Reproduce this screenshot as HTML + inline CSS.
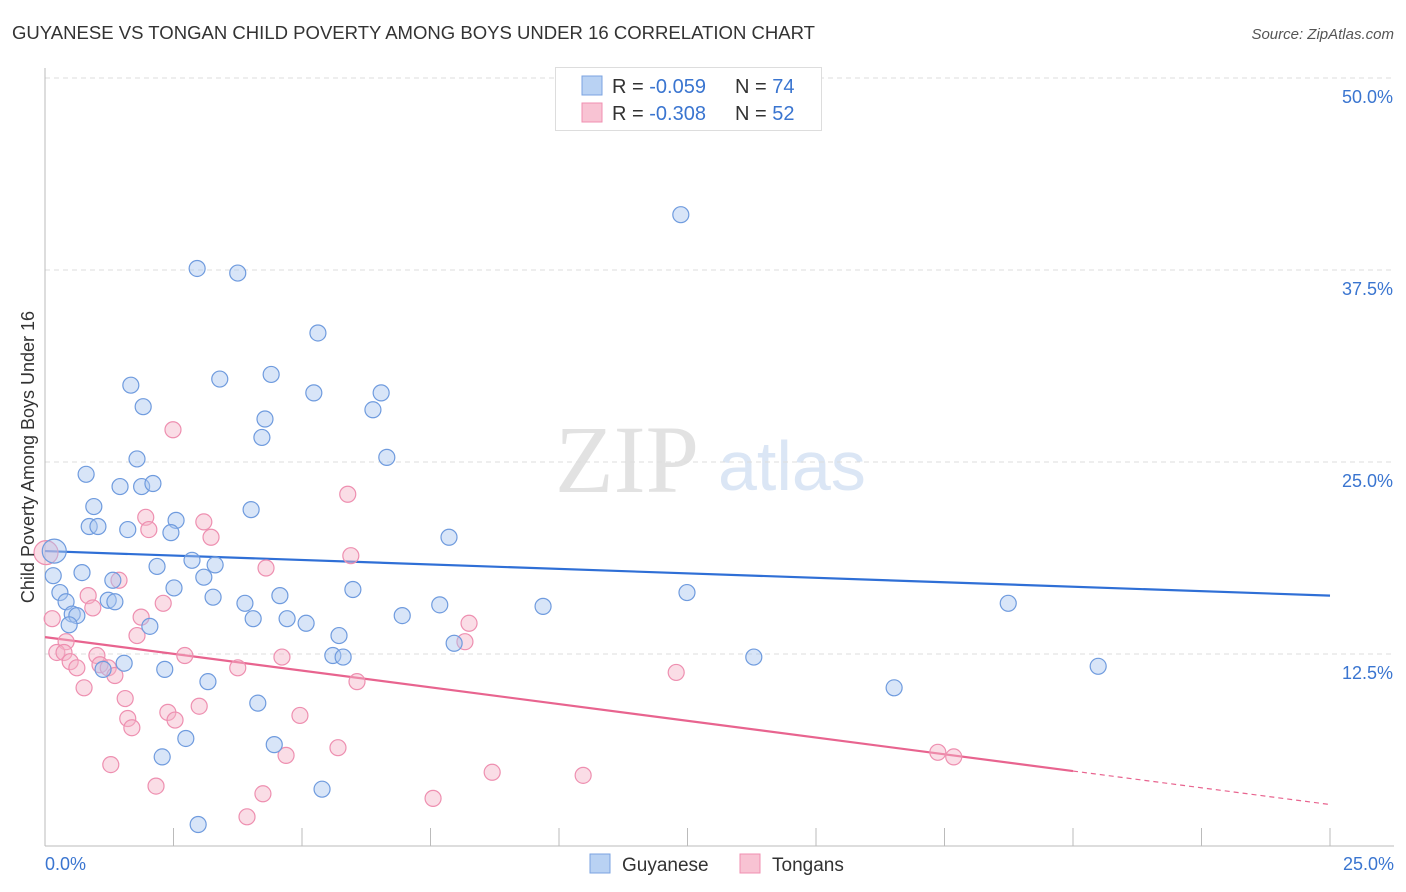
<!DOCTYPE html>
<html><head><meta charset="utf-8"><style>
body{margin:0;background:#fff;font-family:"Liberation Sans",sans-serif;}
svg{display:block}
</style></head><body>
<svg id="chart" width="1406" height="892" xmlns="http://www.w3.org/2000/svg">
<text x="12" y="39" font-size="18" fill="#333" textLength="803" lengthAdjust="spacingAndGlyphs">GUYANESE VS TONGAN CHILD POVERTY AMONG BOYS UNDER 16 CORRELATION CHART</text>
<text x="1394" y="39" font-size="15" fill="#555" font-style="italic" text-anchor="end">Source: ZipAtlas.com</text>
<text x="555" y="492" font-size="96" fill="#e2e2e2" font-family="Liberation Serif,serif">ZIP</text>
<text x="718" y="490" font-size="70" fill="#dbe6f5">atlas</text>
<g id="grid"></g>
<g id="axes"></g>
<g id="lines"></g>
<g id="pts"></g>
<text transform="translate(34,457) rotate(-90)" font-size="18" fill="#333" text-anchor="middle">Child Poverty Among Boys Under 16</text>
<g>
<rect x="555.5" y="67.5" width="266" height="63" fill="#fff" stroke="#ddd"/>
<rect x="582" y="76" width="20" height="19" fill="#b9d2f3" stroke="#7ba3e0"/>
<rect x="582" y="103" width="20" height="19" fill="#f8c3d3" stroke="#f08fb0"/>
<text x="612" y="93" font-size="20" fill="#333">R = <tspan fill="#3a75d0">-0.059</tspan><tspan x="735">N = </tspan><tspan fill="#3a75d0">74</tspan></text>
<text x="612" y="120" font-size="20" fill="#333">R = <tspan fill="#3a75d0">-0.308</tspan><tspan x="735">N = </tspan><tspan fill="#3a75d0">52</tspan></text>
</g>
<g>
<rect x="590" y="854" width="20" height="19" fill="#b9d2f3" stroke="#7ba3e0"/>
<text x="622" y="871" font-size="19" fill="#333">Guyanese</text>
<rect x="740" y="854" width="20" height="19" fill="#f8c3d3" stroke="#f08fb0"/>
<text x="772" y="871" font-size="19" fill="#333">Tongans</text>
</g>
</svg>
<script>
const yTicks=[12.5,25,37.5,50];
const yTickLabels=["12.5%","25.0%","37.5%","50.0%"];
const xTickVals=[0,2.5,5,7.5,10,12.5,15,17.5,20,22.5,25];
const xEndLabels=["0.0%","25.0%"];
const blueX=[12.37,2.96,3.75,5.31,1.67,3.40,4.40,5.23,6.54,1.91,6.38,4.28,4.22,1.79,6.65,0.80,1.46,1.88,2.10,0.95,4.01,0.86,1.03,1.61,2.55,2.45,7.86,0.18,2.86,2.18,3.31,0.16,0.72,3.09,1.32,2.51,5.99,12.49,0.29,0.41,1.23,1.36,3.27,4.57,3.89,7.68,9.69,18.74,0.53,0.62,6.95,4.05,4.71,5.08,0.47,2.04,5.72,7.96,5.60,5.80,13.79,1.54,20.49,1.13,2.33,3.17,16.52,4.14,2.74,4.46,2.28,5.39,2.98];
const blueY=[41.1,37.6,37.3,33.4,30.0,30.4,30.7,29.5,29.5,28.6,28.4,27.8,26.6,25.2,25.3,24.2,23.4,23.4,23.6,22.1,21.9,20.8,20.8,20.6,21.2,20.4,20.1,19.2,18.6,18.2,18.3,17.6,17.8,17.5,17.3,16.8,16.7,16.5,16.5,15.9,16.0,15.9,16.2,16.3,15.8,15.7,15.6,15.8,15.1,15.0,15.0,14.8,14.8,14.5,14.4,14.3,13.7,13.2,12.4,12.3,12.3,11.9,11.7,11.5,11.5,10.7,10.3,9.3,7.0,6.6,5.8,3.7,1.4];
const pinkX=[2.49,5.89,1.96,3.09,2.02,3.23,5.95,0.02,4.30,1.44,0.84,2.30,0.93,1.87,0.14,8.25,1.79,0.41,8.17,0.23,0.37,2.72,4.61,1.01,0.49,1.07,0.62,1.23,3.75,1.36,12.28,6.07,0.76,1.56,3.00,2.39,4.96,1.61,2.53,1.69,5.70,4.69,17.37,17.68,1.28,8.70,10.47,2.16,4.24,7.55,3.93];
const pinkY=[27.1,22.9,21.4,21.1,20.6,20.1,18.9,19.1,18.1,17.3,16.3,15.8,15.5,14.9,14.8,14.5,13.7,13.3,13.3,12.6,12.6,12.4,12.3,12.4,12.0,11.8,11.6,11.6,11.6,11.1,11.3,10.7,10.3,9.6,9.1,8.7,8.5,8.3,8.2,7.7,6.4,5.9,6.1,5.8,5.3,4.8,4.6,3.9,3.4,3.1,1.9];
const blueTrend=[19.2,16.3];
const pinkTrend=[13.6,2.7];
const pinkSolidEnd=20;

const NS="http://www.w3.org/2000/svg";
const X=v=>45+v/25*1285;
const Y=v=>846-v/12.5*192;
function mk(tag,attrs,parent){const e=document.createElementNS(NS,tag);for(const k in attrs)e.setAttribute(k,attrs[k]);parent.appendChild(e);return e;}
const grid=document.getElementById('grid'),axes=document.getElementById('axes'),lines=document.getElementById('lines'),pts=document.getElementById('pts');
yTicks.forEach((t,i)=>{
 const l=mk('line',{x1:45,x2:1394,y1:Y(t),y2:Y(t),stroke:'#ddd','stroke-dasharray':'5,4'},grid);
 
 
 const tx=mk('text',{x:1393,y:Y(t)+25,'font-size':18,fill:'#3a75d0','text-anchor':'end'},axes);
 tx.textContent=yTickLabels[i];
 
 
});
const ax=mk('line',{x1:45,x2:45,y1:68,y2:846,stroke:'#bbb'},axes);


const bx=mk('line',{x1:45,x2:1394,y1:846,y2:846,stroke:'#bbb'},axes);


xTickVals.forEach(v=>{
 const t=mk('line',{x1:X(v),x2:X(v),y1:828,y2:846,stroke:'#bbb'},axes);
 
 
});
[[0,'start',45],[25,'end',1394]].forEach((a,i)=>{
 const t=mk('text',{x:a[2],y:870,'font-size':18,fill:'#3a75d0','text-anchor':a[1]},axes);
 t.textContent=xEndLabels[i];
 
 
});
function dots(xs,ys,fill,stroke,name){
 xs.forEach((x,i)=>{
  const big=(x<0.3&&ys[i]>18.8&&ys[i]<19.5);
  const c=mk('circle',{cx:X(x),cy:Y(ys[i]),r:big?12:8,fill:fill,'fill-opacity':0.45,stroke:stroke,'stroke-width':1.2},pts);
  
  
 });
}
dots(pinkX,pinkY,'#f5b3c8','#ee8fb0','tongans-point');
dots(blueX,blueY,'#a8c5ef','#6f9bde','guyanese-point');
const bl=mk('line',{x1:X(0),y1:Y(blueTrend[0]),x2:X(25),y2:Y(blueTrend[1]),stroke:'#2f6fd6','stroke-width':2.2},lines);


const py=v=>pinkTrend[0]+(pinkTrend[1]-pinkTrend[0])*v/25;
const pl=mk('line',{x1:X(0),y1:Y(py(0)),x2:X(pinkSolidEnd),y2:Y(py(pinkSolidEnd)),stroke:'#e8648f','stroke-width':2.2},lines);


const pd=mk('line',{x1:X(pinkSolidEnd),y1:Y(py(pinkSolidEnd)),x2:X(25),y2:Y(py(25)),stroke:'#e8648f','stroke-width':1.2,'stroke-dasharray':'5,4'},lines);


</script>
</body></html>
